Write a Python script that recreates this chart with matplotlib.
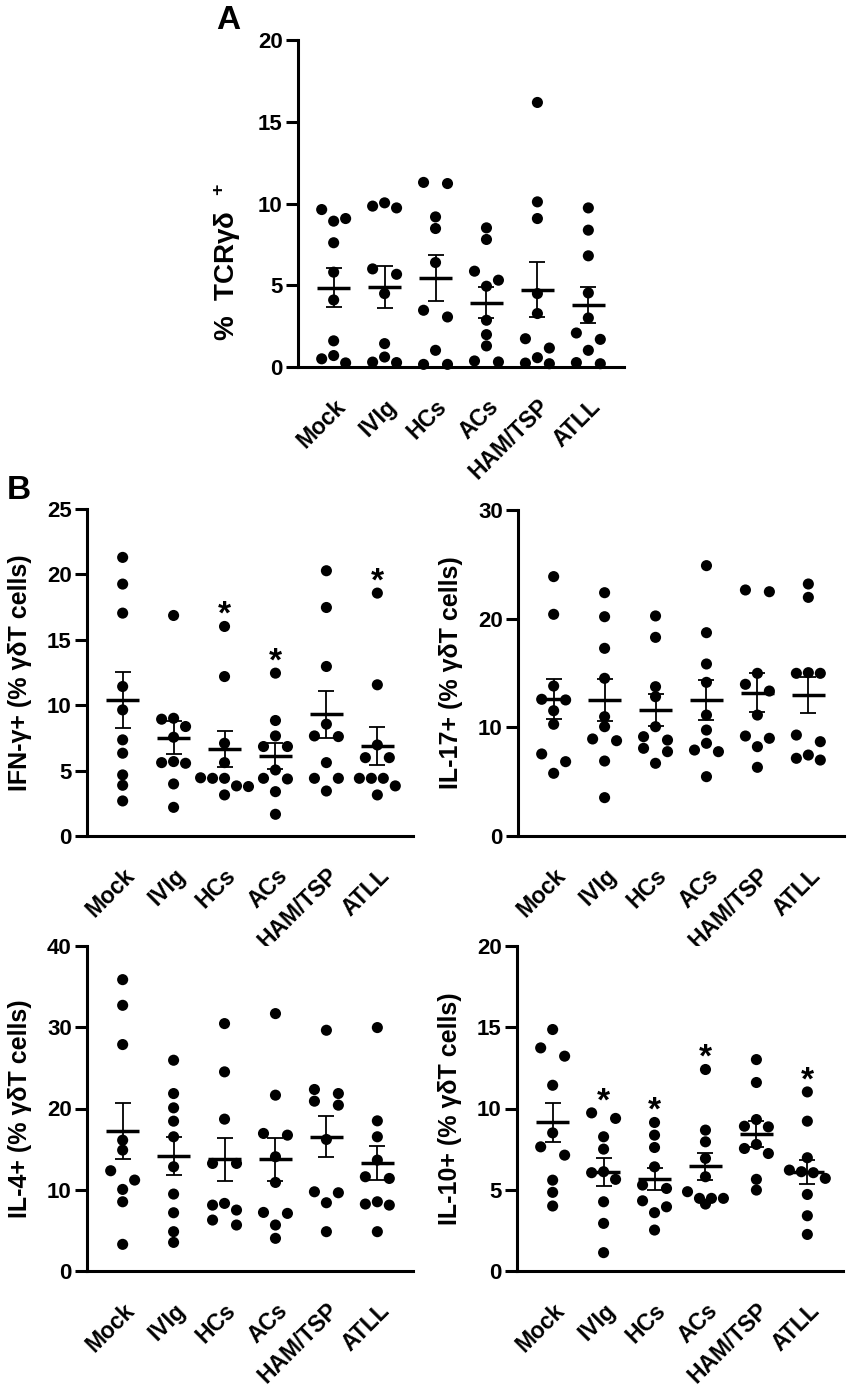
import matplotlib

matplotlib.use("Agg")
import matplotlib.pyplot as plt
import numpy as np

plt.rcParams["font.family"] = ["Liberation Sans", "DejaVu Sans"]
plt.rcParams["font.weight"] = "bold"
plt.rcParams["mathtext.fontset"] = "custom"
plt.rcParams["mathtext.rm"] = "Liberation Sans:bold"
plt.rcParams["mathtext.default"] = "rm"

groups = ["Mock", "IVIg", "HCs", "ACs", "HAM/TSP", "ATLL"]

# panel A: % TCRgd+
tcr_values = [
    [9.63, 9.08, 8.92, 7.6, 5.8, 4.1, 1.6, 0.7, 0.5, 0.25],
    [10.04, 9.84, 9.73, 6.0, 5.67, 4.49, 1.43, 0.61, 0.3, 0.27],
    [11.29, 11.22, 9.18, 8.47, 6.39, 3.47, 3.06, 1.02, 0.16, 0.16],
    [8.51, 7.8, 5.86, 5.31, 4.94, 2.86, 1.98, 1.29, 0.37, 0.31],
    [16.18, 10.1, 9.08, 4.49, 3.27, 1.73, 1.16, 0.57, 0.24, 0.2],
    [9.73, 8.37, 6.8, 4.53, 3.0, 2.08, 1.69, 1.02, 0.27, 0.2],
]
tcr_mean = [4.86, 4.9, 5.47, 3.92, 4.73, 3.78]
tcr_sem = [1.22, 1.27, 1.41, 0.95, 1.69, 1.1]

# panel B: IFN-g+
ifn_values = [
    [21.3, 19.26, 17.04, 11.43, 9.64, 7.35, 6.33, 4.67, 3.88, 2.68],
    [16.86, 9.0, 8.93, 8.37, 7.55, 5.69, 5.61, 5.56, 3.98, 2.19],
    [16.02, 12.19, 7.09, 5.61, 4.45, 4.41, 4.41, 3.83, 3.78, 3.14],
    [12.45, 8.83, 7.65, 6.84, 6.84, 5.05, 4.41, 4.36, 3.39, 1.66],
    [20.28, 17.47, 12.96, 8.55, 7.65, 7.6, 5.61, 4.41, 4.41, 3.44],
    [18.57, 11.56, 6.96, 5.99, 5.99, 4.41, 4.41, 4.41, 3.83, 3.14],
]
ifn_mean = [10.41, 7.53, 6.63, 6.12, 9.31, 6.91]
ifn_sem = [2.13, 1.25, 1.36, 0.96, 1.79, 1.46]
ifn_stars = [2, 3, 5]

# panel B: IL-17+
il17_values = [
    [23.87, 20.4, 13.8, 12.58, 12.52, 11.53, 10.28, 7.55, 6.84, 5.77],
    [22.39, 20.18, 17.27, 14.51, 10.98, 10.06, 8.93, 8.77, 6.9, 3.53],
    [20.25, 18.28, 13.74, 12.82, 10.06, 9.14, 8.83, 8.07, 7.76, 6.69],
    [24.88, 18.71, 15.83, 14.14, 11.13, 9.75, 8.53, 7.91, 7.76, 5.46],
    [22.64, 22.48, 14.97, 13.96, 13.34, 11.13, 9.2, 8.99, 8.22, 6.32],
    [23.19, 21.96, 15.03, 14.97, 14.97, 9.29, 8.68, 7.45, 7.15, 6.99],
]
il17_mean = [12.6, 12.52, 11.6, 12.52, 13.19, 12.98]
il17_sem = [1.81, 1.95, 1.46, 1.88, 1.81, 1.66]

# panel B: IL-4+
il4_values = [
    [35.86, 32.7, 27.87, 16.1, 14.88, 12.34, 11.19, 10.04, 8.52, 3.28],
    [25.94, 21.84, 20.08, 18.44, 16.52, 12.83, 9.47, 7.17, 4.84, 3.52],
    [30.45, 24.51, 18.69, 13.24, 13.24, 8.32, 8.11, 7.5, 6.27, 5.66],
    [31.68, 21.64, 16.93, 16.72, 14.06, 10.9, 7.21, 7.09, 5.66, 4.02],
    [29.63, 22.34, 21.84, 20.9, 20.41, 16.19, 9.75, 9.63, 8.4, 4.84],
    [29.96, 18.48, 16.52, 13.65, 11.6, 11.39, 8.52, 8.24, 8.11, 4.84],
]
il4_mean = [17.25, 14.14, 13.73, 13.73, 16.52, 13.24]
il4_sem = [3.47, 2.36, 2.69, 2.67, 2.53, 2.1]

# panel B: IL-10+
il10_values = [
    [14.86, 13.73, 13.22, 11.43, 8.5, 7.64, 7.13, 5.59, 4.84, 4.0],
    [9.73, 9.39, 8.26, 7.5, 6.11, 6.05, 5.64, 4.26, 2.93, 1.13],
    [9.14, 8.36, 7.6, 6.41, 5.29, 5.08, 4.32, 3.95, 3.59, 2.52],
    [12.4, 8.67, 7.95, 6.93, 5.8, 4.88, 4.47, 4.47, 4.47, 4.12],
    [13.01, 11.6, 9.32, 8.91, 8.87, 7.79, 7.54, 7.23, 5.64, 4.98],
    [11.02, 9.22, 6.97, 6.21, 6.11, 6.05, 5.7, 4.71, 3.4, 2.25],
]
il10_mean = [9.14, 6.07, 5.66, 6.45, 8.46, 6.11]
il10_sem = [1.21, 0.86, 0.65, 0.82, 0.8, 0.75]
il10_stars = [1, 2, 3, 5]

W, H = 850, 1391
fig = plt.figure(figsize=(W / 100, H / 100), dpi=100)


def px_axes(left, top, bottom, width=326):
    return fig.add_axes([left / W, 1 - bottom / H, width / W, (bottom - top) / H])


def row_offsets(values, diam, step):
    # GraphPad-like layout: points closer than one dot are put side by side
    order = np.argsort(values, kind="stable")[::-1]
    rows = []
    for i in order:
        if rows and values[rows[-1][0]] - values[i] < diam:
            rows[-1].append(i)
        else:
            rows.append([i])
    pattern = {1: [0], 2: [-1, 1], 3: [0, -1, 1]}
    offs = np.zeros(len(values))
    for row in rows:
        n = len(row)
        pos = pattern.get(n, list(np.arange(n) - (n - 1) / 2))
        for i, p in zip(row, pos):
            offs[i] = p * step
    return offs


def draw_panel(ax, values, means, sems, ymax, ystep, ylabel, stars=(),
               label_y=0.5, label_size=18):
    ax.set_xlim(-0.7, 5.7)
    ax.set_ylim(0, ymax)
    px_per_unit = ax.get_position().height * H / ymax
    diam = 9.5 / px_per_unit

    for i, vals in enumerate(values):
        v = np.asarray(vals, dtype=float)
        xs = i + row_offsets(v, diam, 0.235)
        ax.scatter(xs, v, s=64, color="black", edgecolor="none", zorder=3, clip_on=False)
        ax.errorbar(i, means[i], yerr=sems[i], fmt="none", ecolor="black",
                    elinewidth=1.3, capsize=6, capthick=1.3, zorder=4)
        ax.hlines(means[i], i - 0.33, i + 0.33, color="black", lw=2.5, zorder=4)

    for i in stars:
        ax.annotate("*", (i, max(values[i])), xytext=(0, 2), textcoords="offset points",
                    ha="center", va="baseline", fontsize=24, fontweight="bold")

    for side in ("top", "right"):
        ax.spines[side].set_visible(False)
    for side in ("left", "bottom"):
        ax.spines[side].set_linewidth(2.2)

    ticks = np.arange(0, ymax + 0.1, ystep)
    ax.set_yticks(ticks)
    ax.set_yticklabels([f"{t:g}" for t in ticks])
    ax.tick_params(axis="y", length=8.5, width=2.2, pad=2.5, labelsize=16)
    ax.set_xticks(range(len(groups)))
    ax.set_xticklabels(groups, rotation=45, ha="right", rotation_mode="anchor")
    ax.tick_params(axis="x", length=0, pad=20, labelsize=16.5)

    ax.set_ylabel(ylabel, fontsize=label_size, fontweight="bold")
    ax.yaxis.set_label_coords(-0.17, label_y)


ax_a = px_axes(298, 40, 367)
draw_panel(ax_a, tcr_values, tcr_mean, tcr_sem, 20, 5, "%  TCRγδ  $^{+}$",
           label_y=0.32, label_size=20)

ax_ifn = px_axes(87, 509, 836)
draw_panel(ax_ifn, ifn_values, ifn_mean, ifn_sem, 25, 5, "IFN-γ+ (% γδT cells)", stars=ifn_stars)

ax_il17 = px_axes(518, 510, 836)
draw_panel(ax_il17, il17_values, il17_mean, il17_sem, 30, 10, "IL-17+ (% γδT cells)")

ax_il4 = px_axes(87, 946, 1271)
draw_panel(ax_il4, il4_values, il4_mean, il4_sem, 40, 10, "IL-4+ (% γδT cells)")

ax_il10 = px_axes(517, 946, 1271)
draw_panel(ax_il10, il10_values, il10_mean, il10_sem, 20, 5, "IL-10+ (% γδT cells)", stars=il10_stars)

fig.text(216 / W, 1 - 29 / H, "A", fontsize=24, fontweight="bold", va="baseline")
fig.text(7 / W, 1 - 499 / H, "B", fontsize=24, fontweight="bold", va="baseline")

fig.savefig("out.png", dpi=100)
